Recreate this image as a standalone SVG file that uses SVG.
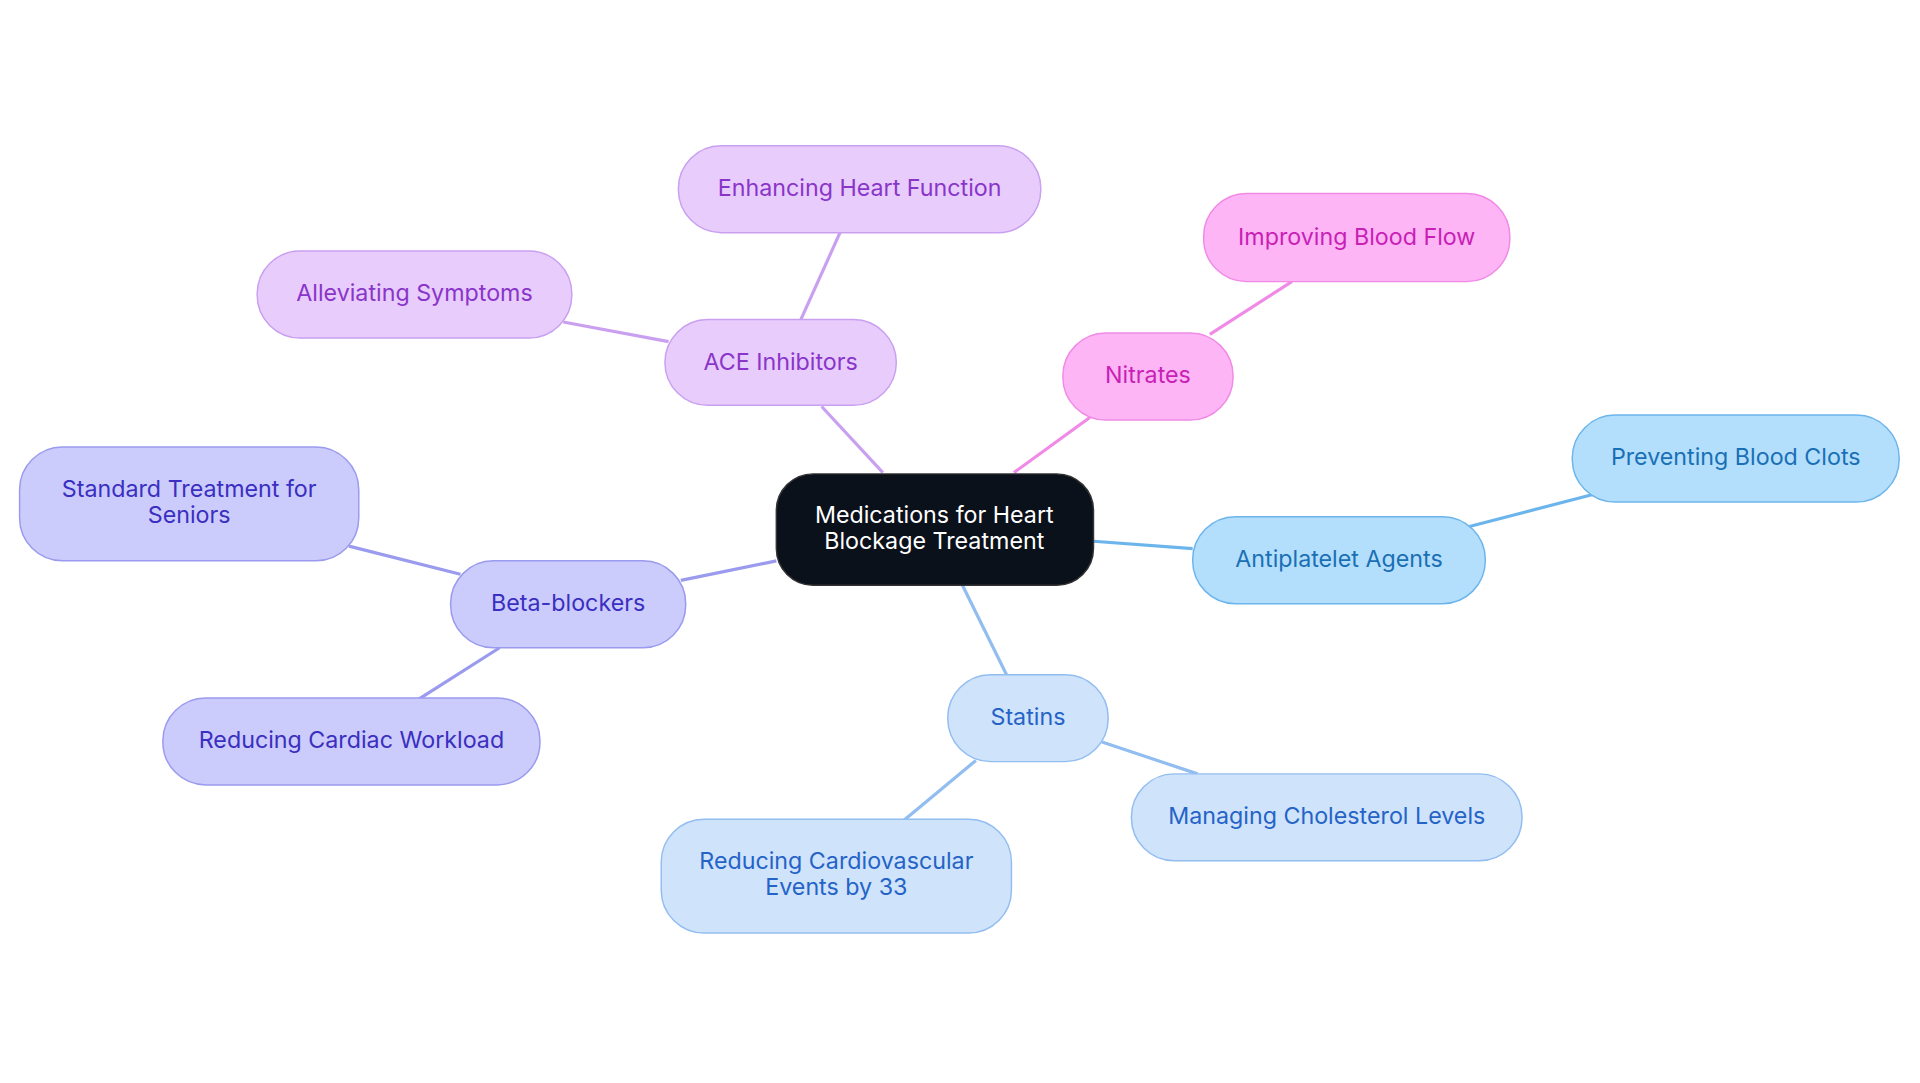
<svg xmlns="http://www.w3.org/2000/svg" width="1920" height="1083" viewBox="0 0 1920 1083">
<style>
text{font-family:Inter,"Noto Sans",sans-serif;font-size:19px;text-anchor:middle}
.p rect{fill:#e8ccfc;stroke:#c9a0f0}.p text{fill:#8a35c9}
.m rect{fill:#fdb5f5;stroke:#f08ae6}.m text{fill:#c81fb5}
.a rect{fill:#b3dffc;stroke:#6bb5ec}.a text{fill:#1a6fb5}
.s rect{fill:#cfe3fb;stroke:#92bdf0}.s text{fill:#2563c7}
.b rect{fill:#cbcbfc;stroke:#9a9aee}.b text{fill:#3a2fc0}
rect{stroke-width:1.2}
#edges line{stroke-width:2.6}
</style>
<rect width="1920" height="1083" fill="#fff"/>
<g transform="scale(1.2245)">
<g id="edges">
<line x1="721" y1="386" x2="671" y2="332" stroke="#c9a0f0"/>
<line x1="654" y1="261" x2="686" y2="190" stroke="#c9a0f0"/>
<line x1="546" y1="279" x2="460" y2="263" stroke="#c9a0f0"/>
<line x1="828" y1="386" x2="890" y2="341" stroke="#f08ae6"/>
<line x1="988" y1="273" x2="1055" y2="230" stroke="#f08ae6"/>
<line x1="893" y1="442" x2="974" y2="448" stroke="#6bb5ec"/>
<line x1="1200" y1="430" x2="1300" y2="404" stroke="#6bb5ec"/>
<line x1="786" y1="478" x2="822" y2="551" stroke="#92bdf0"/>
<line x1="900" y1="606" x2="978" y2="632" stroke="#92bdf0"/>
<line x1="797" y1="621" x2="738" y2="670" stroke="#92bdf0"/>
<line x1="634" y1="458" x2="556" y2="474" stroke="#9a9aee"/>
<line x1="376" y1="469" x2="285" y2="446" stroke="#9a9aee"/>
<line x1="408" y1="529" x2="342" y2="571" stroke="#9a9aee"/>
</g>
<g id="center"><rect x="634" y="387" width="259" height="91" rx="30" fill="#0b111b" stroke="#333"/><text x="763" y="427" fill="#fff">Medications for Heart</text><text x="763" y="448" fill="#fff">Blockage Treatment</text></g>
<g id="ace" class="p"><rect x="543" y="261" width="189" height="70" rx="35"/><text x="637.5" y="302">ACE Inhibitors</text></g>
<g id="enh" class="p"><rect x="554" y="119" width="296" height="71" rx="35"/><text x="702" y="160">Enhancing Heart Function</text></g>
<g id="all" class="p"><rect x="210" y="205" width="257" height="71" rx="35"/><text x="338.5" y="246">Alleviating Symptoms</text></g>
<g id="nit" class="m"><rect x="868" y="272" width="139" height="71" rx="35"/><text x="937.5" y="313">Nitrates</text></g>
<g id="imp" class="m"><rect x="983" y="158" width="250" height="72" rx="35"/><text x="1108" y="200">Improving Blood Flow</text></g>
<g id="anti" class="a"><rect x="974" y="422" width="239" height="71" rx="35"/><text x="1093.5" y="463">Antiplatelet Agents</text></g>
<g id="prev" class="a"><rect x="1284" y="339" width="267" height="71" rx="35"/><text x="1417.5" y="380">Preventing Blood Clots</text></g>
<g id="stat" class="s"><rect x="774" y="551" width="131" height="71" rx="35"/><text x="839.5" y="592">Statins</text></g>
<g id="chol" class="s"><rect x="924" y="632" width="319" height="71" rx="35"/><text x="1083.5" y="673">Managing Cholesterol Levels</text></g>
<g id="cve" class="s"><rect x="540" y="669" width="286" height="93" rx="35"/><text x="683" y="710">Reducing Cardiovascular</text><text x="683" y="731">Events by 33</text></g>
<g id="beta" class="b"><rect x="368" y="458" width="192" height="71" rx="35"/><text x="464" y="499">Beta-blockers</text></g>
<g id="std" class="b"><rect x="16" y="365" width="277" height="93" rx="35"/><text x="154.5" y="406">Standard Treatment for</text><text x="154.5" y="427">Seniors</text></g>
<g id="work" class="b"><rect x="133" y="570" width="308" height="71" rx="35"/><text x="287" y="611">Reducing Cardiac Workload</text></g>
</g>
</svg>
